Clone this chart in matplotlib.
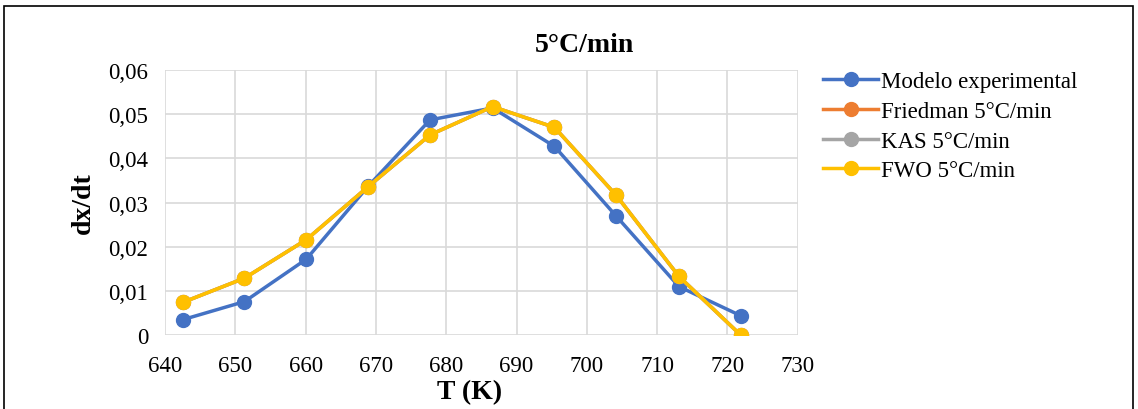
import matplotlib.pyplot as plt
from matplotlib.patches import Rectangle
from matplotlib.ticker import FuncFormatter

# Data
T = [642.5, 651.3, 660.1, 668.9, 677.7, 686.6, 695.4, 704.2, 713.1, 721.9]
experimental = [0.0035, 0.0076, 0.0172, 0.0337, 0.0487, 0.0514, 0.0427, 0.0269, 0.0110, 0.0044]
friedman = [0.0074, 0.0129, 0.0216, 0.0336, 0.0453, 0.0517, 0.0470, 0.0316, 0.0133, 0.0]
kas = [0.0074, 0.0129, 0.0216, 0.0336, 0.0453, 0.0517, 0.0470, 0.0316, 0.0133, 0.0]
fwo = [0.0074, 0.0129, 0.0216, 0.0336, 0.0453, 0.0517, 0.0470, 0.0316, 0.0133, 0.0]

series = [experimental, friedman, kas, fwo]
labels = ['Modelo experimental', 'Friedman 5°C/min', 'KAS 5°C/min', 'FWO 5°C/min']
colors = ['#4472C4', '#ED7D31', '#A5A5A5', '#FFC000']

plt.rcParams['font.family'] = ['Liberation Serif', 'DejaVu Serif']

fig = plt.figure(figsize=(11.38, 4.10), dpi=100)
ax = fig.add_axes([0.145, 0.180, 0.556, 0.647])

for y, lab, c in zip(series, labels, colors):
    ax.plot(T, y, color=c, lw=2.5, marker='o', markersize=10, label=lab)

ax.set_xlim(640, 730)
ax.set_ylim(0, 0.06)
ax.set_xticks(range(640, 731, 10))
ax.set_yticks([0, 0.01, 0.02, 0.03, 0.04, 0.05, 0.06])
ax.yaxis.set_major_formatter(FuncFormatter(lambda v, p: '0' if v == 0 else f'{v:.2f}'.replace('.', ',')))
ax.grid(True, color='#d9d9d9', lw=1.2)
ax.set_axisbelow(True)
for s in ax.spines.values():
    s.set_visible(False)
ax.tick_params(length=0, labelsize=16.5)
ax.tick_params(axis='y', pad=12)
ax.tick_params(axis='x', pad=14)

# axis labels and title (placed like the original Excel chart)
fig.text(470 / 1138, 1 - 393 / 410, 'T (K)', ha='center', va='center', fontsize=20, fontweight='bold')
fig.text(83 / 1138, 1 - 203 / 410, 'dx/dt', ha='center', va='center', rotation=90,
         fontsize=20, fontweight='bold')
fig.text(584 / 1138, 1 - 45 / 410, '5°C/min', ha='center', va='center', fontsize=20, fontweight='bold')

ax.legend(loc='upper left', bbox_to_anchor=(823 / 1138, 1 - 72 / 410), bbox_transform=fig.transFigure,
          frameon=False, fontsize=16.5, handlelength=2.4, handletextpad=0.15,
          labelspacing=0.38, borderaxespad=0, borderpad=0)

fig.patches.append(Rectangle((4 / 1138, -0.05), 1129 / 1138, 1 - 7 / 410 + 0.05,
                             transform=fig.transFigure, fill=False, edgecolor='black', lw=1.2))

fig.savefig('out.png', dpi=100)
